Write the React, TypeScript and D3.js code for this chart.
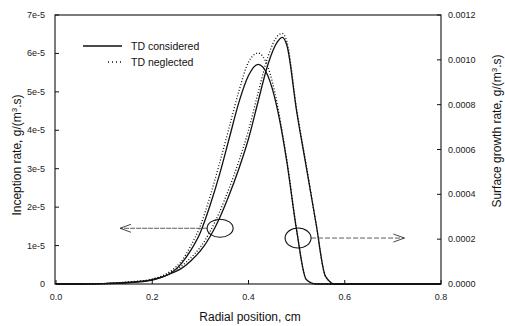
import React from "react";
import * as d3 from "d3";

// radial position, cm
const radial = [0, 0.05, 0.1, 0.15, 0.2, 0.24, 0.26, 0.28, 0.3, 0.32, 0.34, 0.36, 0.38, 0.4, 0.42, 0.44, 0.46, 0.47, 0.48, 0.5, 0.52, 0.54, 0.56, 0.58, 0.6, 0.7, 0.8];

// inception rate, g/(m3.s)  (left axis)
const inceptionTD = [0, 0, 0.01e-5, 0.03e-5, 0.1e-5, 0.28e-5, 0.4e-5, 0.6e-5, 0.86e-5, 1.23e-5, 1.72e-5, 2.32e-5, 3.0e-5, 3.78e-5, 4.75e-5, 5.7e-5, 6.3e-5, 6.42e-5, 6.2e-5, 4.5e-5, 3.05e-5, 1.6e-5, 0.2e-5, 0, 0, 0, 0];
const inceptionNoTD = [0, 0, 0.01e-5, 0.04e-5, 0.12e-5, 0.32e-5, 0.46e-5, 0.68e-5, 0.96e-5, 1.36e-5, 1.88e-5, 2.5e-5, 3.2e-5, 4.0e-5, 4.98e-5, 5.9e-5, 6.45e-5, 6.52e-5, 6.3e-5, 4.55e-5, 3.1e-5, 1.6e-5, 0.2e-5, 0, 0, 0, 0];

// surface growth rate, g/(m3.s)  (right axis)
const growthTD = [0, 0, 0.000002, 0.000008, 0.00002, 0.00005, 0.00009, 0.00015, 0.00023, 0.00035, 0.00049, 0.00065, 0.00081, 0.00093, 0.00098, 0.00093, 0.00078, 0.00067, 0.00054, 0.00024, 0.00002, 0, 0, 0, 0, 0, 0];
const growthNoTD = [0, 0, 0.000002, 0.000009, 0.000022, 0.00006, 0.0001, 0.00017, 0.00026, 0.00039, 0.00054, 0.0007, 0.00086, 0.00099, 0.00103, 0.00097, 0.0008, 0.00068, 0.00055, 0.00024, 0.00002, 0, 0, 0, 0, 0, 0];

const xTicks = [0, 0.2, 0.4, 0.6, 0.8];
const leftTicks = [0, 1e-5, 2e-5, 3e-5, 4e-5, 5e-5, 6e-5, 7e-5];
const leftTickLabels = ["0", "1e-5", "2e-5", "3e-5", "4e-5", "5e-5", "6e-5", "7e-5"];
const rightTicks = [0, 0.0002, 0.0004, 0.0006, 0.0008, 0.001, 0.0012];

const legendLabels = ["TD considered", "TD neglected"];

const W = 505, H = 326;
const L = 55, R = 441, T = 15, B = 284;
const font = "Liberation Sans, Arial, sans-serif";

export default function App() {
  const x = d3.scaleLinear().domain([0, 0.8]).range([L + 1, R]);
  const yL = d3.scaleLinear().domain([0, 7e-5]).range([B, T]);
  const yR = d3.scaleLinear().domain([0, 0.0012]).range([B, T]);

  const lineOf = (vals: number[], y: d3.ScaleLinear<number, number>) =>
    d3.line<number>()
      .x((_, i) => x(radial[i]))
      .y(d => y(d))
      .curve(d3.curveMonotoneX)(vals) as string;

  // annotation anchors, in data units
  const cL = { x: x(0.341), y: yL(1.45e-5) };
  const cR = { x: x(0.503), y: yR(0.000205) };
  const arrowL = x(0.133);
  const arrowR = x(0.724);

  return (
    <svg width={W} height={H} style={{ position: "absolute", left: 0, top: 0, background: "#fff" }}>
      {/* frame */}
      <rect x={L} y={T} width={R - L} height={B - T} fill="none" stroke="#111" strokeWidth={1.1} />

      {/* x axis */}
      {xTicks.map(t => (
        <g key={"x" + t}>
          <line x1={x(t)} x2={x(t)} y1={B} y2={B - 4} stroke="#111" />
          <text x={x(t)} y={300} fontSize={9} fontFamily={font} textAnchor="middle" fill="#222">{t.toFixed(1)}</text>
        </g>
      ))}

      {/* left axis */}
      {leftTicks.map((t, i) => (
        <g key={"l" + i}>
          <line x1={L} x2={L + 4} y1={yL(t)} y2={yL(t)} stroke="#111" />
          <text x={45} y={yL(t) + 3} fontSize={9} fontFamily={font} textAnchor="end" fill="#222">{leftTickLabels[i]}</text>
        </g>
      ))}

      {/* right axis */}
      {rightTicks.map((t, i) => (
        <g key={"r" + i}>
          <line x1={R} x2={R - 4} y1={yR(t)} y2={yR(t)} stroke="#111" />
          <text x={448} y={yR(t) + 3} fontSize={9} fontFamily={font} fill="#222">{t.toFixed(4)}</text>
        </g>
      ))}

      {/* curves */}
      <path d={lineOf(growthNoTD, yR)} fill="none" stroke="#111" strokeWidth={1.3} strokeDasharray="1,2" />
      <path d={lineOf(inceptionNoTD, yL)} fill="none" stroke="#111" strokeWidth={1.3} strokeDasharray="1,2" />
      <path d={lineOf(growthTD, yR)} fill="none" stroke="#111" strokeWidth={1.3} />
      <path d={lineOf(inceptionTD, yL)} fill="none" stroke="#111" strokeWidth={1.3} />

      {/* annotations */}
      <ellipse cx={cL.x} cy={cL.y} rx={13} ry={9} fill="none" stroke="#111" strokeWidth={1.1} />
      <line x1={cL.x - 13} x2={arrowL} y1={cL.y} y2={cL.y} stroke="#333" strokeWidth={0.8} strokeDasharray="5,1" />
      <path d={`M${arrowL + 11},${cL.y - 4}L${arrowL},${cL.y}L${arrowL + 11},${cL.y + 4}`} fill="none" stroke="#333" strokeWidth={0.9} />
      <ellipse cx={cR.x} cy={cR.y} rx={13} ry={10} fill="none" stroke="#111" strokeWidth={1.1} />
      <line x1={cR.x + 13} x2={arrowR} y1={cR.y} y2={cR.y} stroke="#333" strokeWidth={0.8} strokeDasharray="5,2" />
      <path d={`M${arrowR - 11},${cR.y - 4}L${arrowR},${cR.y}L${arrowR - 11},${cR.y + 4}`} fill="none" stroke="#333" strokeWidth={0.9} />

      {/* legend */}
      <line x1={83} x2={122} y1={46} y2={46} stroke="#111" strokeWidth={1.3} />
      <text x={131} y={50} fontSize={10.5} fontFamily={font} fill="#111">{legendLabels[0]}</text>
      <line x1={108} x2={122} y1={62} y2={62} stroke="#111" strokeWidth={1.3} strokeDasharray="1,3" />
      <text x={131} y={66} fontSize={10.5} fontFamily={font} fill="#111">{legendLabels[1]}</text>

      {/* axis titles */}
      <text x={250} y={321} fontSize={12} fontFamily={font} textAnchor="middle" fill="#111">Radial position, cm</text>
      <text transform="translate(21,155) rotate(-90)" fontSize={12} fontFamily={font} textAnchor="middle" fill="#111">
        Inception rate, g/(m<tspan dy={-4} fontSize={8}>3</tspan><tspan dy={4}>.s)</tspan>
      </text>
      <text transform="translate(501,131) rotate(-90)" fontSize={12} fontFamily={font} textAnchor="middle" fill="#111">
        Surface growth rate, g/(m<tspan dy={-4} fontSize={8}>3</tspan><tspan dy={4}>.s)</tspan>
      </text>
    </svg>
  );
}
